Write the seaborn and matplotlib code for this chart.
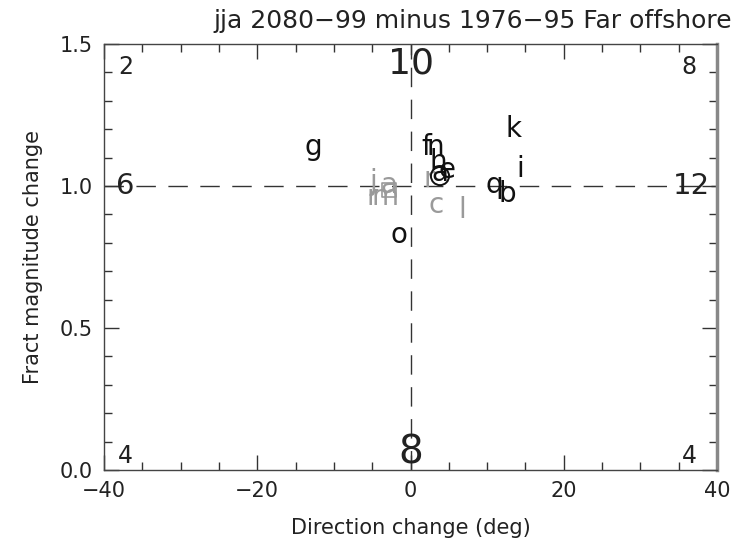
import matplotlib
matplotlib.use("Agg")
import matplotlib.pyplot as plt
import seaborn as sns
import pandas as pd
from matplotlib.ticker import MultipleLocator

# ---- data ----
black_labels = ["g", "f", "n", "h", "e", "a", "k", "i", "q", "b", "o"]
black_dir = [-12.7, 2.0, 3.3, 3.6, 4.8, 3.85, 13.4, 14.3, 10.9, 12.6, -1.5]
black_mag = [1.109, 1.109, 1.109, 1.056, 1.028, 1.018, 1.173, 1.032, 0.975, 0.944, 0.799]

gray_labels = ["j", "r", "m", "a", "r", "c", "l"]
gray_dir = [-4.8, -5.0, -3.3, -2.8, 2.4, 3.3, 6.7]
gray_mag = [0.986, 0.933, 0.933, 0.975, 0.996, 0.905, 0.887]

mean_black = (3.85, 1.035)   # circled mean
mean_gray = (-2.8, 0.986)    # boxed mean

count_labels = ["2", "10", "8", "6", "12", "4", "8", "4"]
count_x = [-37.2, 0.0, 36.4, -37.2, 36.6, -37.2, 0.0, 36.4]
count_y = [1.42, 1.43, 1.42, 1.0, 1.0, 0.05, 0.06, 0.05]
count_size = [17, 26, 17, 21, 21, 17, 28, 17]

xticks = [-40, -20, 0, 20, 40]
yticks = [0.0, 0.5, 1.0, 1.5]

sns.set_style("white")
plt.rcParams["font.family"] = ["DejaVu Sans"]

fig = plt.figure(figsize=(7.34, 5.47), dpi=100)
ax = fig.add_axes([104 / 734, 1 - 470 / 547, (717 - 104) / 734, (470 - 44) / 547])

ax.axhline(1.0, color="#333333", lw=1.0, ls=(0, (14, 9)), zorder=1)
ax.axvline(0.0, color="#333333", lw=1.0, ls=(0, (14, 9)), zorder=1)

dfm = pd.DataFrame({"x": [mean_black[0], mean_gray[0]], "y": [mean_black[1], mean_gray[1]],
                    "kind": ["black", "gray"]})
sns.scatterplot(data=dfm[dfm.kind == "black"], x="x", y="y", marker="o", s=170,
                facecolors="none", edgecolor="#111111", linewidth=1.4, ax=ax, zorder=3)
sns.scatterplot(data=dfm[dfm.kind == "gray"], x="x", y="y", marker="s", s=110,
                facecolors="none", edgecolor="#999999", linewidth=1.2, ax=ax, zorder=3)

for lab, x, y in zip(gray_labels, gray_dir, gray_mag):
    ax.text(x, y, lab, color="#9a9a9a", fontsize=20, ha="center", va="baseline", zorder=2)
for lab, x, y in zip(black_labels, black_dir, black_mag):
    ax.text(x, y, lab, color="#111111", fontsize=20, ha="center", va="baseline", zorder=4)

for lab, x, y, s in zip(count_labels, count_x, count_y, count_size):
    ax.text(x, y, lab, color="#222222", fontsize=s, ha="center", va="center", zorder=2)

ax.set_xlim(-40, 40)
ax.set_ylim(0, 1.5)
ax.set_xticks(xticks)
ax.set_yticks(yticks)
ax.set_xticklabels([f"{t:d}".replace("-", "\u2212") for t in xticks])
ax.set_yticklabels([f"{t:.1f}" for t in yticks])
ax.xaxis.set_minor_locator(MultipleLocator(5))
ax.yaxis.set_minor_locator(MultipleLocator(0.1))
ax.tick_params(which="both", direction="in", top=True, right=True, bottom=True, left=True,
               colors="#333333", labelcolor="#222222", labelsize=15, width=1)
ax.tick_params(which="major", length=11, pad=8)
ax.tick_params(which="minor", length=6)
for sp in ax.spines.values():
    sp.set_color("#444444")
    sp.set_linewidth(1.0)
ax.spines["right"].set_color("#888888")
ax.spines["right"].set_linewidth(2.5)

ax.set_xlabel("Direction change (deg)", fontsize=15, color="#222222", labelpad=12)
ax.set_ylabel("Fract magnitude change", fontsize=15, color="#222222", labelpad=12)
fig.text(473 / 734, 1 - 21 / 547, "jja 2080\u221299 minus 1976\u221295 Far offshore",
         fontsize=18, color="#222222", ha="center", va="center")

fig.savefig("out.png", dpi=100)
